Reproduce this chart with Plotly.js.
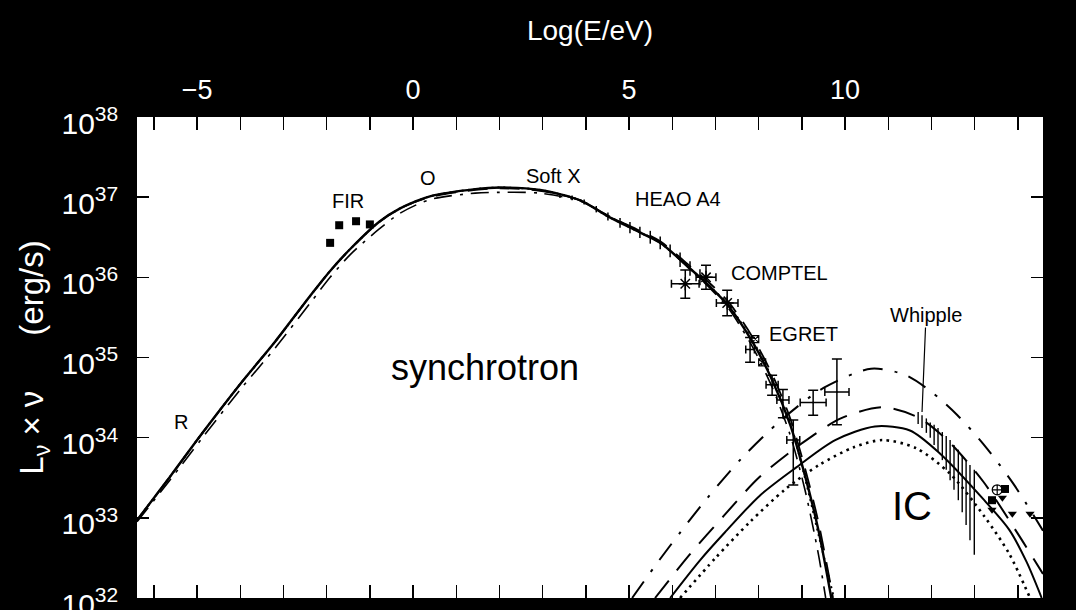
<!DOCTYPE html>
<html><head><meta charset="utf-8">
<script src="https://cdn.plot.ly/plotly-3.0.1.min.js"></script>
<style>html,body{margin:0;padding:0;background:#000;} #chart{width:1076px;height:610px;}</style>
</head><body><div id="chart"></div>
<script>
// x = log10(E/eV); all luminosities given as log10(L_nu * nu / erg s^-1)
const synchE        = [-6.39,-5.63,-4.86,-4.00,-3.19,-2.38,-1.92,-1.46,-0.79,-0.30,0.39,1.44,2.01,2.94,3.87,4.51,5.25,5.72,6.41,6.88,7.29,7.85,8.31,8.73,9.07,9.38,9.68];
const synchSolid    = [32.97,33.51,34.07,34.67,35.20,35.77,36.08,36.35,36.69,36.86,37.01,37.10,37.12,37.09,36.96,36.76,36.56,36.43,36.11,35.88,35.65,35.20,34.72,34.16,33.53,32.85,32.00];
const synchDashE    = [-6.39,-5.63,-4.86,-4.00,-3.19,-2.38,-1.92,-1.46,-0.79,-0.30,0.39,1.44,2.01,2.94,3.87,4.51,5.25,5.72,6.41,6.88,7.29,7.85,8.31,8.73,9.07,9.38,9.72];
const synchDashed   = [32.97,33.51,34.07,34.67,35.20,35.77,36.08,36.35,36.69,36.86,37.00,37.09,37.11,37.08,36.96,36.77,36.58,36.45,36.14,35.92,35.70,35.26,34.79,34.24,33.62,32.95,32.00];
const synchDDE      = [-6.39,-5.63,-4.86,-4.00,-3.19,-2.38,-1.92,-1.46,-0.79,-0.30,0.39,1.44,2.01,2.94,3.87,4.51,5.25,5.72,6.41,6.88,7.29,7.85,8.31,8.73,9.07,9.38,9.55];
const synchDashDot  = [32.95,33.47,34.01,34.60,35.12,35.68,36.00,36.28,36.60,36.80,36.97,37.05,37.06,37.05,36.95,36.77,36.57,36.43,36.10,35.86,35.62,35.14,34.63,34.03,33.35,32.55,32.00];
const synchDotE     = [-6.39,-5.63,-4.86,-4.00,-3.19,-2.38,-1.92,-1.46,-0.79,-0.30,0.39,1.44,2.01,2.94,3.87,4.51,5.25,5.72,6.41,6.88,7.29,7.85,8.31,8.73,9.07,9.38,9.74];
const synchDotted   = [32.97,33.51,34.07,34.67,35.20,35.77,36.08,36.35,36.69,36.86,37.01,37.10,37.12,37.09,36.96,36.76,36.56,36.43,36.11,35.88,35.66,35.22,34.74,34.18,33.50,32.80,32.00];

const icDashDotE = [5.07,5.6,6.2,6.8,7.6,8.5,9.5,10.6,11.4,12.0,12.6,13.2,13.9,14.58];
const icDashDot  = [32.00,32.40,32.83,33.24,33.74,34.21,34.62,34.86,34.78,34.57,34.28,33.92,33.42,32.84];
const icDashedE  = [5.60,6.4,7.2,8.0,9.0,9.9,10.86,11.7,12.4,13.2,14.0,14.58];
const icDashed   = [32.00,32.54,33.03,33.50,33.93,34.24,34.38,34.25,33.95,33.45,32.80,32.30];
const icSolidE   = [5.95,6.64,7.22,8.03,8.87,9.77,10.69,11.5,12.2,13.22,13.8,14.2,14.55];
const icSolid    = [32.00,32.47,32.82,33.28,33.63,33.97,34.14,34.09,33.80,33.22,32.85,32.45,32.00];
const icDotE     = [6.18,7.0,7.8,8.6,9.4,10.2,10.86,11.64,12.43,13.22,13.8,14.28];
const icDotted   = [32.00,32.50,32.95,33.35,33.66,33.88,33.97,33.87,33.55,33.02,32.55,32.00];

// FIR points
const firE = [-1.92,-1.71,-1.32,-1.00];
const firL = [36.43,36.65,36.70,36.66];

// COMPTEL
const comptelE    = [6.30,6.78,7.27];
const comptelEerr = [0.32,0.23,0.25];
const comptelL    = [35.92,36.00,35.68];
const comptelLlo  = [35.74,35.85,35.52];
const comptelLhi  = [36.09,36.15,35.84];

// EGRET
const egretE    = [7.80,8.31,8.56,8.80,9.26,9.81];
const egretEerr = [0.10,0.14,0.14,0.15,0.30,0.28];
const egretL    = [35.10,34.66,34.47,33.97,34.44,34.57];
const egretLlo  = [34.94,34.53,34.25,33.41,34.28,34.16];
const egretLhi  = [35.25,34.78,34.60,34.22,34.59,34.98];
const egretSqE  = [7.92,8.08];
const egretSqL  = [35.23,34.94];

// Soft X / HEAO A4 hatched band
const hatchE  = [3.40,3.68,3.96,4.24,4.51,4.79,5.02,5.25,5.49,5.72,5.95,6.18,6.41,6.64];
const hatchLo = [36.99,36.96,36.91,36.81,36.71,36.62,36.55,36.49,36.42,36.35,36.25,36.13,36.02,35.90];
const hatchHi = [37.05,37.02,36.97,36.89,36.81,36.74,36.69,36.63,36.58,36.51,36.41,36.31,36.20,36.10];

// Whipple hatched band
const whipE  = [11.69,11.78,11.88,11.97,12.06,12.15,12.25,12.34,12.43,12.52,12.62,12.71,12.80,12.89,12.99];
const whipHi = [34.32,34.28,34.24,34.19,34.16,34.12,34.07,34.02,33.97,33.91,33.85,33.78,33.72,33.66,33.60];
const whipLo = [34.17,34.12,34.06,34.00,33.91,33.82,33.72,33.60,33.47,33.35,33.22,33.07,32.91,32.72,32.54];

// highest-energy points
const hegraE = [13.52]; const hegraL = [33.35];
const sqE = [13.70,13.40]; const sqL = [33.36,33.22];
const ulE = [13.40,13.64,13.87,14.28]; const ulL = [33.10,33.25,33.05,33.05];

const P = v => v.map(a => Math.pow(10, a));
const K = '#000';

function line(x, y, dash, w) {
  return {x: x, y: P(y), mode: 'lines', type: 'scatter', hoverinfo: 'skip',
    line: {color: K, width: w || 2, dash: dash || 'solid', shape: 'spline', smoothing: 0.8}};
}
function bars(x, lo, hi, w) {
  const yl = P(lo), yh = P(hi);
  return {x: x, y: yh, mode: 'markers', type: 'scatter', marker: {size: 0.1, color: K},
    error_y: {type: 'data', symmetric: false, array: yh.map(() => 0), arrayminus: yh.map((v, i) => v - yl[i]),
      width: 0, thickness: w || 1, color: K}};
}
function cross(x, xe, y, lo, hi, sym, sz) {
  const yy = P(y), yl = P(lo), yh = P(hi);
  return {x: x, y: yy, mode: 'markers', type: 'scatter',
    marker: {symbol: sym, size: sz, color: K, line: {color: K, width: 1.5}},
    error_x: {type: 'data', array: xe, width: 4, thickness: 1.5, color: K},
    error_y: {type: 'data', symmetric: false, array: yy.map((v, i) => yh[i] - v), arrayminus: yy.map((v, i) => v - yl[i]),
      width: 5, thickness: 1.5, color: K}};
}

const traces = [
  line(synchE, synchSolid, 'solid', 2.4),
  line(synchDashE, synchDashed, '20px,12px', 1.8),
  line(synchDDE, synchDashDot, '18px,8px,3px,8px', 1.6),
  line(synchDotE, synchDotted, '2px,4px', 2),
  line(icDashDotE, icDashDot, '20px,12px,3px,12px', 2),
  line(icDashedE, icDashed, '22px,13px', 2),
  line(icSolidE, icSolid, 'solid', 2),
  line(icDotE, icDotted, '2.5px,4.5px', 2.6),
  bars(hatchE, hatchLo, hatchHi, 1.5),
  bars(whipE, whipLo, whipHi, 1.4),
  {x: firE, y: P(firL), mode: 'markers', type: 'scatter', marker: {symbol: 'square', size: 8, color: K}},
  cross(comptelE, comptelEerr, comptelL, comptelLlo, comptelLhi, 'asterisk-open', 11),
  cross(egretE, egretEerr, egretL, egretLlo, egretLhi, 'line-ew-open', 1),
  {x: egretSqE, y: P(egretSqL), mode: 'markers', type: 'scatter', marker: {symbol: 'square-x-open', size: 7, color: K, line: {color: K, width: 1.2}}},
  {x: hegraE, y: P(hegraL), mode: 'markers', type: 'scatter', marker: {symbol: 'circle-cross-open', size: 10, color: K, line: {color: K, width: 1.2}}},
  {x: sqE, y: P(sqL), mode: 'markers', type: 'scatter', marker: {symbol: 'square', size: 8, color: K}},
  {x: ulE, y: P(ulL), mode: 'markers', type: 'scatter', marker: {symbol: 'triangle-down', size: 8, color: K}}
];

// minor log ticks (2..9 in each decade) on both vertical frame sides, as axis decoration
// (shape coordinates on a log axis are given in log10 units)
const minorTicks = [];
const tickFrac = 7 / 906;
for (let d = 32; d < 38; d++) {
  for (let m = 2; m <= 9; m++) {
    const v = d + Math.log10(m);
    minorTicks.push({type: 'line', xref: 'paper', yref: 'y', x0: 0, x1: tickFrac, y0: v, y1: v, line: {color: K, width: 1.2}});
    minorTicks.push({type: 'line', xref: 'paper', yref: 'y', x0: 1 - tickFrac, x1: 1, y0: v, y1: v, line: {color: K, width: 1.2}});
  }
}

function lab(t, x, y, s) { return {text: t, x: x, y: y, xref: 'x', yref: 'y', showarrow: false, font: {size: s || 20, color: K}}; }

const layout = {
  width: 1076, height: 610,
  paper_bgcolor: '#000', plot_bgcolor: '#fff',
  margin: {l: 137, r: 33, t: 117, b: 12, pad: 0},
  showlegend: false,
  font: {family: 'Liberation Sans, Arial, sans-serif', color: '#fff', size: 24},
  xaxis: {range: [-6.39, 14.58], side: 'top', tickmode: 'array', tickvals: [-5, 0, 5, 10], ticktext: ['\u22125', '0', '5', '10'],
    ticks: 'inside', ticklen: 13, tickwidth: 1.5, tickcolor: K, showline: true, linecolor: K, linewidth: 2,
    mirror: 'ticks', showgrid: false, zeroline: false, ticklabelstandoff: 5,
    minor: {ticks: 'inside', ticklen: 13, tickwidth: 1.5, tickcolor: K, tick0: 0, dtick: 1, showgrid: false},
    tickfont: {size: 27, color: '#fff'},
    title: {text: 'Log(E/eV)', font: {size: 28, color: '#fff'}, standoff: 26}},
  yaxis: {type: 'log', range: [32, 38], dtick: 1, exponentformat: 'power',
    ticks: 'inside', ticklen: 12, tickwidth: 1.5, tickcolor: K, showline: true, linecolor: K, linewidth: 2,
    mirror: 'ticks', showgrid: false, zeroline: false, ticklabelstandoff: 12, ticklabelshift: 6, ticklabeloverflow: 'allow',
    tickfont: {size: 24, color: '#fff'},
    title: {text: 'L<sub>\u03bd</sub> \u00d7 \u03bd\u00a0\u00a0\u00a0\u00a0\u00a0\u00a0(erg/s)', font: {size: 33, color: '#fff'}, standoff: 8}},
  shapes: minorTicks,
  annotations: [
    lab('FIR', -1.50, 36.95),
    lab('O', 0.35, 37.24),
    lab('Soft X', 3.24, 37.26),
    lab('HEAO A4', 6.13, 36.98),
    lab('COMPTEL', 8.47, 36.06),
    lab('EGRET', 9.03, 35.29),
    lab('R', -5.37, 34.19),
    lab('synchrotron', 1.67, 34.87, 36),
    lab('IC', 11.55, 33.15, 40),
    {text: 'Whipple', x: 11.78, y: 34.32, xref: 'x', yref: 'y', showarrow: true, arrowhead: 0, arrowwidth: 1.2,
      arrowcolor: K, ax: 4, ay: -97, font: {size: 20, color: K}}
  ]
};

Plotly.newPlot('chart', traces, layout, {staticPlot: true, displayModeBar: false});
</script>
</body></html>
